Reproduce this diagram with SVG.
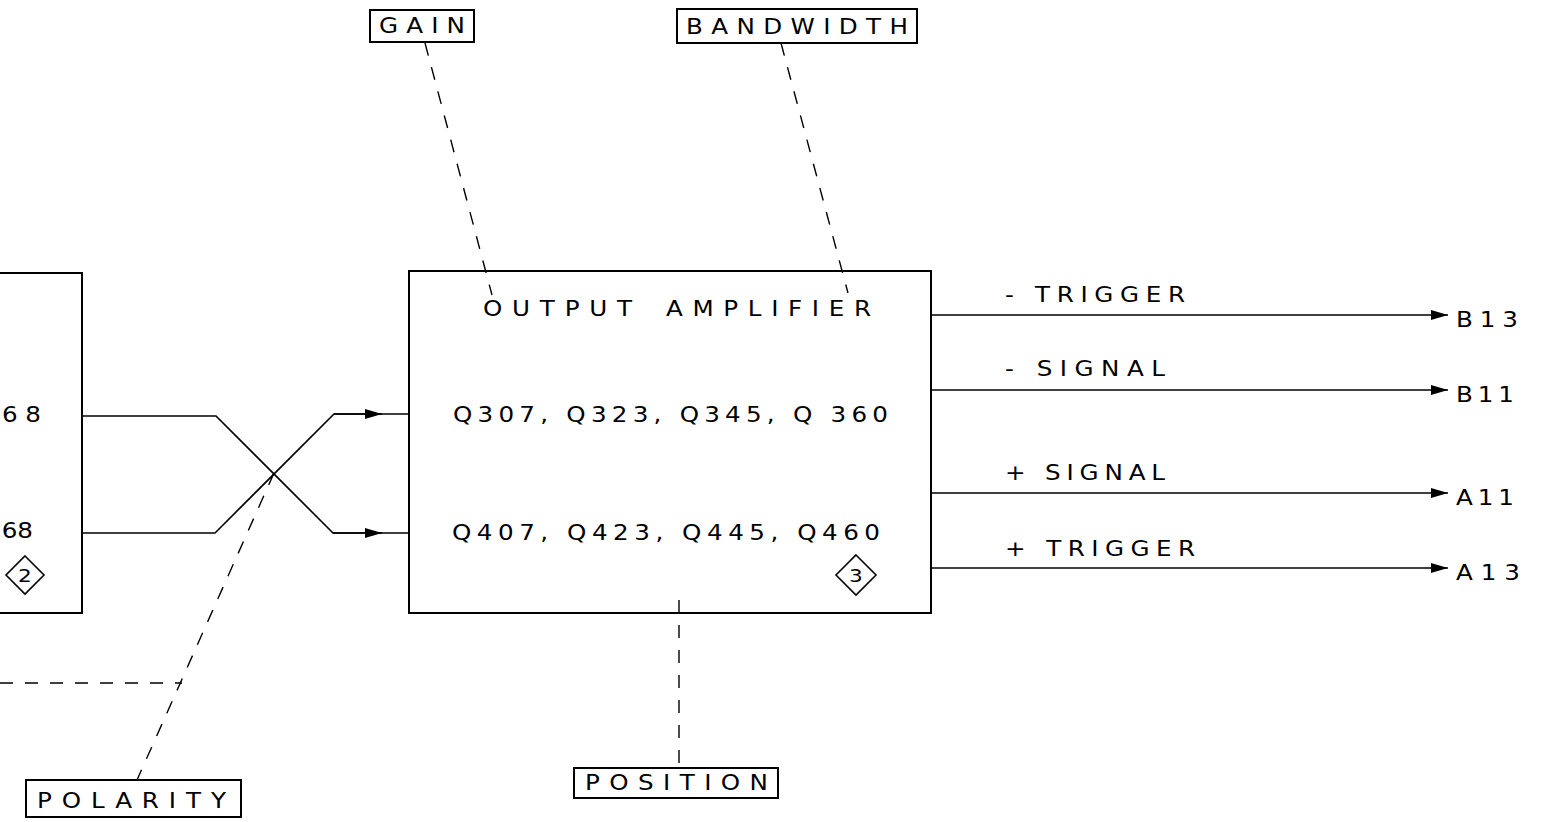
<svg xmlns="http://www.w3.org/2000/svg" width="1542" height="822" viewBox="0 0 1542 822">
<style>
.box{fill:#fff;stroke:#000;stroke-width:2}
.ln{fill:none;stroke:#000;stroke-width:1.6}
.dash{fill:none;stroke:#000;stroke-width:1.4;stroke-dasharray:13 12}
.t{font-family:"DejaVu Sans","Liberation Sans",Arial,sans-serif;font-size:20.5px;fill:#000}
.tm{text-anchor:middle}
.dn{font-size:18px}
</style>
<defs>
<marker id="arr" markerWidth="18" markerHeight="12" refX="17" refY="6" orient="auto" markerUnits="userSpaceOnUse">
<path d="M0,1 L17,6 L0,11 Z" fill="#000"/>
</marker>
</defs>
<rect width="1542" height="822" fill="#fff"/>

<g id="left-block">
<rect class="box" x="-10" y="273" width="92" height="340"/>
<text class="t" transform="scale(1.2,1)" x="34.17" y="422" text-anchor="end">6 8</text>
<text class="t" transform="scale(1.2,1)" x="27.5" y="538" text-anchor="end">68</text>
<path class="ln" d="M25,556 L44,575 L25,594 L6,575 Z"/>
<text class="t tm dn" transform="scale(1.2,1)" x="20.83" y="582">2</text>
</g>

<g id="output-amplifier">
<rect class="box" x="409" y="271" width="522" height="342"/>
<text class="t" transform="scale(1.2,1)" x="402.5" y="316" textLength="124.17" lengthAdjust="spacing">OUTPUT</text>
<text class="t" transform="scale(1.2,1)" x="555" y="316" textLength="170.83" lengthAdjust="spacing">AMPLIFIER</text>
<text class="t" transform="scale(1.2,1)" x="377.5" y="422" textLength="362.5" lengthAdjust="spacing">Q307, Q323, Q345, Q 360</text>
<text class="t" transform="scale(1.2,1)" x="376.67" y="540" textLength="356.67" lengthAdjust="spacing">Q407, Q423, Q445, Q460</text>
<path class="ln" d="M856,555 L876,575 L856,595 L836,575 Z"/>
<text class="t tm dn" transform="scale(1.2,1)" x="713.33" y="582">3</text>
</g>

<g id="gain">
<rect class="box" x="370" y="10" width="104" height="32"/>
<text class="t" transform="scale(1.2,1)" x="315.83" y="33" textLength="71.67" lengthAdjust="spacing">GAIN</text>
</g>

<g id="bandwidth">
<rect class="box" x="677" y="9" width="240" height="34"/>
<text class="t" transform="scale(1.2,1)" x="571.67" y="34" textLength="185" lengthAdjust="spacing">BANDWIDTH</text>
</g>

<g id="position">
<rect class="box" x="574" y="768" width="204" height="30"/>
<text class="t" transform="scale(1.2,1)" x="487.5" y="790" textLength="152.5" lengthAdjust="spacing">POSITION</text>
</g>

<g id="polarity">
<rect class="box" x="26" y="780" width="215" height="37"/>
<text class="t" transform="scale(1.2,1)" x="30.83" y="808" textLength="157.5" lengthAdjust="spacing">POLARITY</text>
</g>

<g id="outputs">
<text class="t" transform="scale(1.2,1)" x="837.5" y="302" textLength="150" lengthAdjust="spacing">- TRIGGER</text>
<text class="t" transform="scale(1.2,1)" x="837.5" y="376" textLength="133.33" lengthAdjust="spacing">- SIGNAL</text>
<text class="t" transform="scale(1.2,1)" x="837.5" y="480" textLength="133.33" lengthAdjust="spacing">+ SIGNAL</text>
<text class="t" transform="scale(1.2,1)" x="837.5" y="556" textLength="158.33" lengthAdjust="spacing">+ TRIGGER</text>
<text class="t" transform="scale(1.2,1)" x="1213.33" y="327" textLength="51.67" lengthAdjust="spacing">B13</text>
<text class="t" transform="scale(1.2,1)" x="1213.33" y="402" textLength="48.33" lengthAdjust="spacing">B11</text>
<text class="t" transform="scale(1.2,1)" x="1213.33" y="505" textLength="48.33" lengthAdjust="spacing">A11</text>
<text class="t" transform="scale(1.2,1)" x="1213.33" y="580" textLength="53.33" lengthAdjust="spacing">A13</text>
</g>

<g id="connectors">
<path class="ln" d="M82,416 L216,416 L333,533 L409,533"/>
<path class="ln" d="M82,533 L215,533 L334,414 L409,414"/>
<path class="ln" d="M334,414 L382,414" marker-end="url(#arr)"/>
<path class="ln" d="M333,533 L382,533" marker-end="url(#arr)"/>
<path class="ln" d="M931,315 L1448,315" marker-end="url(#arr)"/>
<path class="ln" d="M931,390 L1448,390" marker-end="url(#arr)"/>
<path class="ln" d="M931,493 L1448,493" marker-end="url(#arr)"/>
<path class="ln" d="M931,568 L1448,568" marker-end="url(#arr)"/>
<path class="dash" d="M425,43 L492,295"/>
<path class="dash" d="M781,43 L848,293"/>
<path class="dash" d="M679,600 L679,768"/>
<path class="dash" d="M274,473 L137,780"/>
<path class="dash" d="M0,683 L182,683"/>
</g>
</svg>
